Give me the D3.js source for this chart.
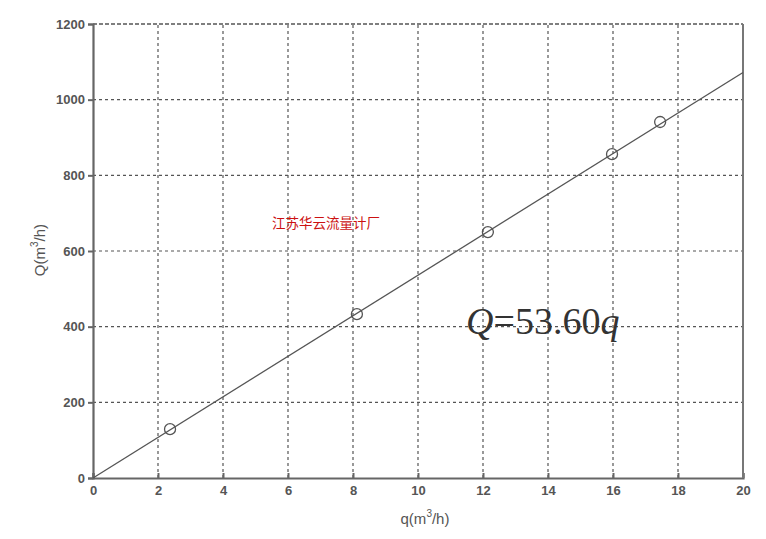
<!DOCTYPE html>
<html><head><meta charset="utf-8">
<script src="https://cdn.jsdelivr.net/npm/d3@7"></script>
<style>body{margin:0;background:#fff}</style>
</head><body>
<svg id="c" width="766" height="539"></svg>
<script>
const qVals = [2.37, 8.12, 12.15, 15.97, 17.45];
const QVals = [129, 433, 650, 856, 941];
const slope = 53.60;
const xTicks = [0,2,4,6,8,10,12,14,16,18,20];
const yTicks = [0,200,400,600,800,1000,1200];

const svg = d3.select("#c");
const x = d3.scaleLinear().domain([0,20]).range([93,743]);
const y = d3.scaleLinear().domain([0,1200]).range([478,24]);
const gridCol = "#555";

// grid
svg.append("g").selectAll("line").data(xTicks.slice(1,-1)).join("line")
  .attr("x1",d=>x(d)).attr("x2",d=>x(d)).attr("y1",y(0)).attr("y2",y(1200))
  .attr("stroke",gridCol).attr("stroke-width",1.2).attr("stroke-dasharray","3,3");
svg.append("g").selectAll("line").data(yTicks.slice(1,-1)).join("line")
  .attr("y1",d=>y(d)).attr("y2",d=>y(d)).attr("x1",x(0)).attr("x2",x(20))
  .attr("stroke",gridCol).attr("stroke-width",1.2).attr("stroke-dasharray","3,3");
// top dashed border
svg.append("line").attr("x1",x(0)).attr("x2",x(20)).attr("y1",y(1200)).attr("y2",y(1200))
  .attr("stroke",gridCol).attr("stroke-width",1.5).attr("stroke-dasharray","4,2");

// axes
const fmt = d3.format("d");
const xa = svg.append("g").attr("transform",`translate(0,${y(0)})`)
  .call(d3.axisBottom(x).tickValues(xTicks).tickFormat(fmt).tickSize(-5).tickPadding(8));
const ya = svg.append("g").attr("transform",`translate(${x(0)},0)`)
  .call(d3.axisLeft(y).tickValues(yTicks).tickFormat(fmt).tickSize(5).tickPadding(3));
[xa,ya].forEach(a=>{
  a.selectAll("path").attr("stroke","#666").attr("stroke-width",2.2);
  a.selectAll("line").attr("stroke","#666").attr("stroke-width",2);
  a.selectAll("text").attr("fill","#555").attr("font-family","Liberation Sans, Arial, sans-serif")
   .attr("font-size",13).attr("font-weight","bold");
});
// right border
svg.append("line").attr("x1",x(20)).attr("x2",x(20)).attr("y1",y(0)).attr("y2",y(1200))
  .attr("stroke","#777").attr("stroke-width",2);

// fit line
svg.append("line").attr("x1",x(0)).attr("y1",y(0)).attr("x2",x(20)).attr("y2",y(slope*20))
  .attr("stroke","#555").attr("stroke-width",1.3);

// points
svg.append("g").selectAll("circle").data(qVals.map((q,i)=>[q,QVals[i]])).join("circle")
  .attr("cx",d=>x(d[0])).attr("cy",d=>y(d[1])).attr("r",5.5)
  .attr("fill","none").attr("stroke","#555").attr("stroke-width",1.3);

// axis labels
const xl = svg.append("text").attr("x",425).attr("y",524).attr("text-anchor","middle")
  .attr("font-family","Liberation Sans, Arial, sans-serif").attr("font-size",15).attr("fill","#555");
xl.append("tspan").text("q(m");
xl.append("tspan").attr("dy",-7).attr("font-size",10).text("3");
xl.append("tspan").attr("dy",7).text("/h)");

const yl = svg.append("text").attr("transform","translate(45,250) rotate(-90)").attr("text-anchor","middle")
  .attr("font-family","Liberation Sans, Arial, sans-serif").attr("font-size",15).attr("fill","#555");
yl.append("tspan").text("Q(m");
yl.append("tspan").attr("dy",-7).attr("font-size",10).text("3");
yl.append("tspan").attr("dy",7).text("/h)");

// watermark
svg.append("text").attr("x",272).attr("y",228).attr("font-family","Noto Sans CJK SC")
  .attr("font-size",13.5).attr("fill","#cc1111").text("江苏华云流量计厂");

// equation
const eq = svg.append("text").attr("x",466).attr("y",334)
  .attr("font-family","Liberation Serif, Times New Roman, serif").attr("font-size",38).attr("fill","#333");
eq.append("tspan").attr("font-style","italic").text("Q");
eq.append("tspan").text("=53.60");
eq.append("tspan").attr("font-style","italic").text("q");
</script>
</body></html>
